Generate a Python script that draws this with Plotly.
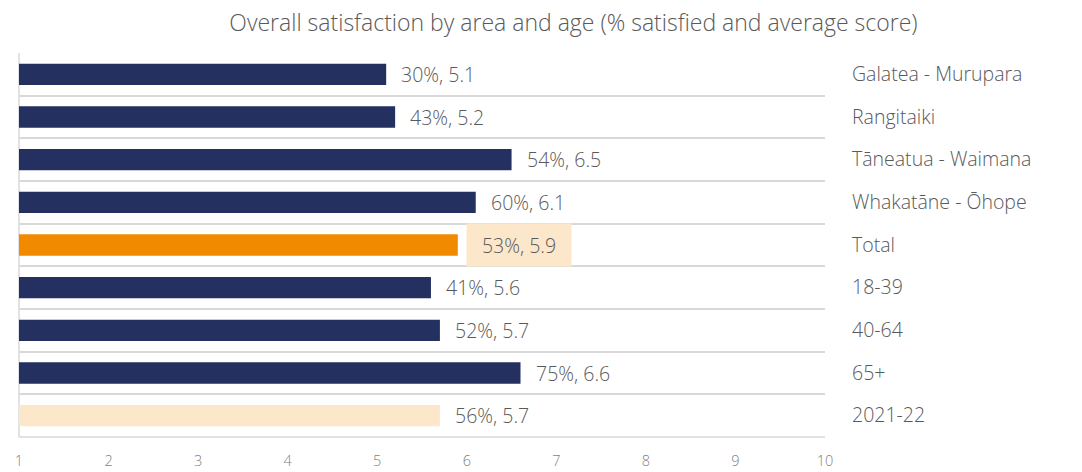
import plotly.graph_objects as go

# Overall satisfaction: average score (bar length) and % satisfied (label)
categories = [
    "Galatea - Murupara",
    "Rangitaiki",
    "Tāneatua - Waimana",
    "Whakatāne - Ōhope",
    "Total",
    "18-39",
    "40-64",
    "65+",
    "2021-22",
]
avg_score = [5.1, 5.2, 6.5, 6.1, 5.9, 5.6, 5.7, 6.6, 5.7]
pct_satisfied = [30, 43, 54, 60, 53, 41, 52, 75, 56]
x_ticks = [1, 2, 3, 4, 5, 6, 7, 8, 9, 10]

NAVY = "#243160"
ORANGE = "#F28A00"
PEACH = "#FDE7CA"
TEXT = "#595959"
GRID = "#D9D9D9"
FONT = "Open Sans"

colors = []
for c in categories:
    if c == "Total":
        colors.append(ORANGE)
    elif c == "2021-22":
        colors.append(PEACH)
    else:
        colors.append(NAVY)

fig = go.Figure(
    go.Bar(
        y=categories,
        x=avg_score,
        orientation="h",
        marker=dict(color=colors, line=dict(width=0)),
        width=0.5,
        hoverinfo="skip",
    )
)

annotations = []
for c, v, p in zip(categories, avg_score, pct_satisfied):
    label = f"{p}%, {v}"
    if c == "Total":
        annotations.append(dict(
            x=v, y=c, xref="x", yref="y", text=label, showarrow=False,
            xanchor="left", yanchor="middle", xshift=8,
            bgcolor=PEACH, width=102, height=40, align="center",
            font=dict(family=FONT, size=19.5, color=TEXT, weight=300),
        ))
    else:
        annotations.append(dict(
            x=v, y=c, xref="x", yref="y", text=label, showarrow=False,
            xanchor="left", yanchor="middle", xshift=13,
            font=dict(family=FONT, size=19.5, color=TEXT, weight=300),
        ))

fig.update_layout(
    width=1082,
    height=472,
    margin=dict(l=19, r=257, t=53, b=35),
    paper_bgcolor="white",
    plot_bgcolor="white",
    showlegend=False,
    bargap=0.5,
    title=dict(
        text="Overall satisfaction by area and age (% satisfied and average score)",
        x=0.53, xanchor="center", y=0.952, yanchor="middle",
        font=dict(family=FONT, size=23, color=TEXT, weight=300),
    ),
    xaxis=dict(
        range=[1, 10],
        tickvals=x_ticks,
        showgrid=False,
        zeroline=False,
        showline=False,
        ticks="",
        automargin=False,
        ticklabelstandoff=13,
        tickfont=dict(family=FONT, size=14.5, color="#7F7F7F", weight=300),
        fixedrange=True,
    ),
    yaxis=dict(
        categoryorder="array",
        categoryarray=categories,
        autorange="reversed",
        side="right",
        tickson="boundaries",
        showgrid=True,
        gridcolor=GRID,
        gridwidth=1.5,
        zeroline=False,
        showline=False,
        ticks="",
        automargin=False,
        ticklabelstandoff=26,
        tickfont=dict(family=FONT, size=19.5, color=TEXT, weight=300),
        fixedrange=True,
    ),
    annotations=annotations,
    shapes=[
        # left frame edge and bottom frame edge of the plot area
        dict(type="line", xref="paper", yref="paper", x0=0, x1=0, y0=0, y1=1,
             line=dict(color=GRID, width=1.5), layer="below"),
        dict(type="line", xref="paper", yref="paper", x0=0, x1=1, y0=0, y1=0,
             line=dict(color=GRID, width=1.5), layer="below"),
    ],
)

fig.write_html("out.html")
